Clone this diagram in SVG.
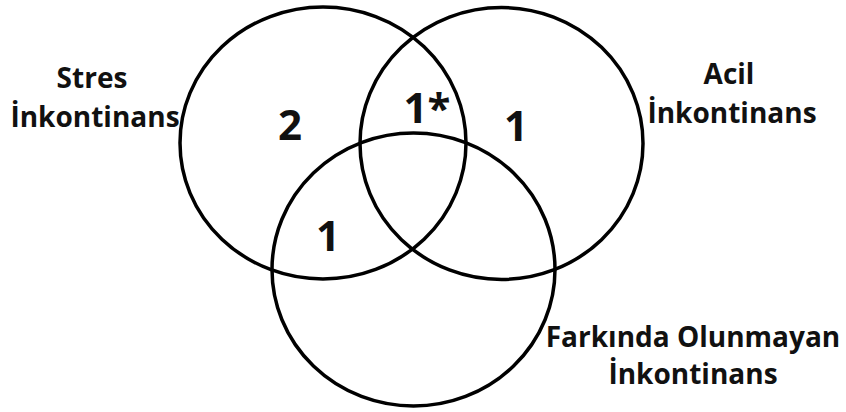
<svg xmlns="http://www.w3.org/2000/svg" width="846" height="412" viewBox="0 0 846 412">
<style>
.c{fill:none;stroke:#000;stroke-width:3.5}
.lb{font-family:"Open Sans","Liberation Sans",sans-serif;font-weight:bold;font-size:28px;fill:#111;text-anchor:middle}
.n{font-family:"Open Sans","Liberation Sans",sans-serif;font-weight:bold;font-size:42px;fill:#111;text-anchor:middle}
</style>
<rect width="846" height="412" fill="#fff"/>
<g id="connectors"/>
<g id="stres">
<ellipse class="c" cx="323" cy="143" rx="143" ry="136"/>
<text class="lb" x="92" y="88">Stres</text>
<text class="lb" x="95" y="127">İnkontinans</text>
</g>
<g id="acil">
<ellipse class="c" cx="501.5" cy="143.5" rx="141.5" ry="136"/>
<text class="lb" x="729" y="84">Acil</text>
<text class="lb" x="732" y="123">İnkontinans</text>
</g>
<g id="farkinda">
<ellipse class="c" cx="413.5" cy="269.5" rx="141.5" ry="136.5"/>
<text class="lb" x="693" y="347">Farkında Olunmayan</text>
<text class="lb" x="693" y="384">İnkontinans</text>
</g>
<g id="counts">
<text class="n" x="290" y="140">2</text>
<text class="n" x="427" y="123">1*</text>
<text class="n" x="516" y="141">1</text>
<text class="n" x="328" y="251">1</text>
</g>
</svg>
